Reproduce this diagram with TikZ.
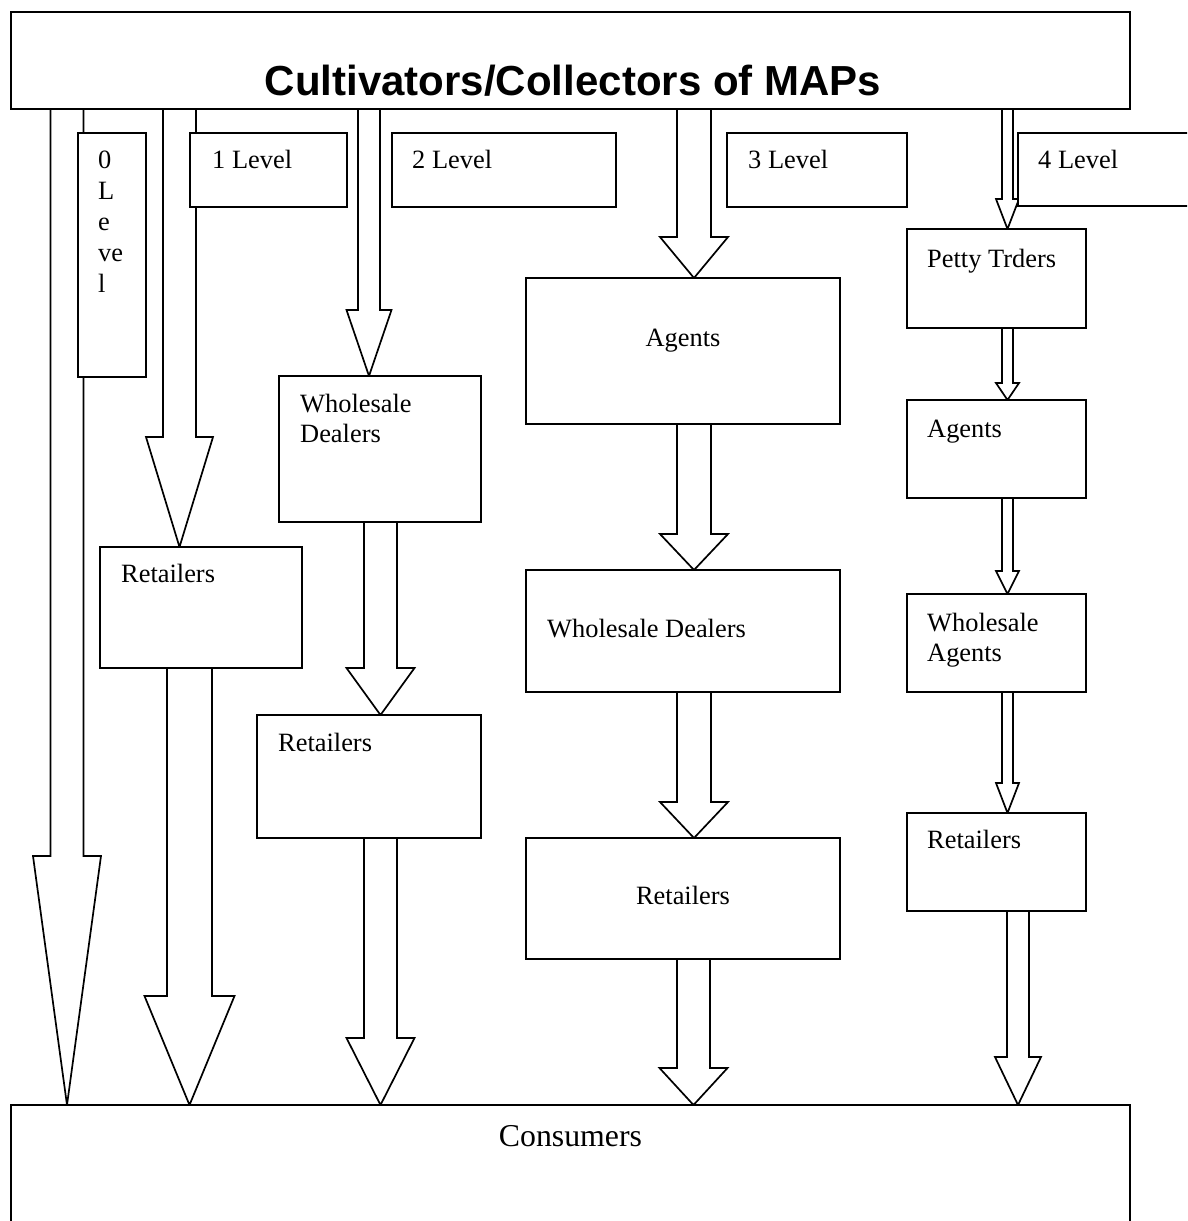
\documentclass[tikz,border=0pt]{standalone}
\usepackage{fontspec}
\setmainfont{Liberation Serif}
\newfontfamily\headfont{Liberation Sans}
\usetikzlibrary{positioning, calc, backgrounds}
\tikzset{
	box/.style={draw, fill=white, line width=1.7pt, inner sep=0pt, outer sep=0pt, anchor=north west},
	wh/.style 2 args={minimum width=#1pt, minimum height=#2pt},
	flow/.style={draw, fill=white, line width=1.7pt, line join=miter},
	lbl/.style={font=\fontsize{26.4}{30.5}\selectfont, inner sep=0pt, anchor=base west},
	lblc/.style={font=\fontsize{26.4}{30.5}\selectfont, inner sep=0pt, anchor=base},
	head/.style={font=\headfont\bfseries\fontsize{42}{48}\selectfont, inner sep=0pt, anchor=base}
}
% hollow block arrow: source, target, tip x, half shaft, half head, head length
\newcommand{\flowarrow}[6]{%
	\draw[flow] let \p1=(#1.south), \p2=(#2.north) in
		(#3-#4,\y1) -- (#3-#4,\y2+#6) -- (#3-#5,\y2+#6) -- (#3,\y2)
		-- (#3+#5,\y2+#6) -- (#3+#4,\y2+#6) -- (#3+#4,\y1);
}

\begin{document}
\begin{tikzpicture}[x=1pt, y=-1pt]
\clip (0,0) rectangle (1187,1221);

% source and sink
\node[box, wh={1119}{97}] (growers) at (11,12) {};
\node[box, wh={1119}{160}] (consumers) at (11,1105) {};
\node[head] (growerstxt) at ([shift={(2.5,83)}]growers.north) {Cultivators/Collectors of MAPs};
\node[lblc, font=\fontsize{31.8}{36}\selectfont] (consumerstxt) at ([shift={(0,41)}]consumers.north) {Consumers};

% level captions
\node[box, wh={68}{244}] (lvl0) at (78,133) {};
\node[box, wh={157}{74}] (lvl1) at (190,133) {};
\node[box, wh={224}{74}] (lvl2) at (392,133) {};
\node[box, wh={180}{74}] (lvl3) at (727,133) {};
\node[box, wh={200}{73}] (lvl4) at (1018,133) {};
\node[lbl, text width=40pt, font=\fontsize{26.4}{31}\selectfont] (lvl0txt) at ([shift={(20,35)}]lvl0.north west) {0\\L\\e\\ve\\l};
\node[lbl] (lvl1txt) at ([shift={(22,35)}]lvl1.north west) {1 Level};
\node[lbl] (lvl2txt) at ([shift={(20,35)}]lvl2.north west) {2 Level};
\node[lbl] (lvl3txt) at ([shift={(21,35)}]lvl3.north west) {3 Level};
\node[lbl] (lvl4txt) at ([shift={(20,35)}]lvl4.north west) {4 Level};

% 1 level
\node[box, wh={202}{121}] (ret1) at (100,547) {};
\node[lbl] (ret1txt) at ([shift={(21,35)}]ret1.north west) {Retailers};

% 2 level
\node[box, wh={202}{146}] (wd2) at (279,376) {};
\node[box, wh={224}{123}] (ret2) at (257,715) {};
\node[lbl, text width=170pt] (wd2txt) at ([shift={(21,36)}]wd2.north west) {Wholesale\\Dealers};
\node[lbl] (ret2txt) at ([shift={(21,36)}]ret2.north west) {Retailers};

% 3 level
\node[box, wh={314}{146}] (agents3) at (526,278) {};
\node[box, wh={314}{122}] (wd3) at (526,570) {};
\node[box, wh={314}{121}] (ret3) at (526,838) {};
\node[lblc] (agents3txt) at ([shift={(0,68)}]agents3.north) {Agents};
\node[lbl] (wd3txt) at ([shift={(21,67)}]wd3.north west) {Wholesale Dealers};
\node[lblc] (ret3txt) at ([shift={(0,66)}]ret3.north) {Retailers};

% 4 level
\node[box, wh={179}{99}] (petty) at (907,229) {};
\node[box, wh={179}{98}] (agents4) at (907,400) {};
\node[box, wh={179}{98}] (wa4) at (907,594) {};
\node[box, wh={179}{98}] (ret4) at (907,813) {};
\node[lbl] (pettytxt) at ([shift={(20,38)}]petty.north west) {Petty Trders};
\node[lbl] (agents4txt) at ([shift={(20,37)}]agents4.north west) {Agents};
\node[lbl, text width=150pt] (wa4txt) at ([shift={(20,37)}]wa4.north west) {Wholesale\\Agents};
\node[lbl] (ret4txt) at ([shift={(20,35)}]ret4.north west) {Retailers};

% channels, kept behind the boxes
\begin{pgfonlayer}{background}
\fill[white] (0,0) rectangle (1187,1221);
\flowarrow{growers}{consumers}{67}{16.5}{34}{249}
\flowarrow{growers}{ret1}{179.5}{16.5}{33.5}{110}
\flowarrow{ret1}{consumers}{189.5}{22.5}{45}{109}
\flowarrow{growers}{wd2}{369}{11}{22.5}{66}
\flowarrow{wd2}{ret2}{380.5}{16.5}{34}{47}
\flowarrow{ret2}{consumers}{380.5}{16.5}{34}{67}
\flowarrow{growers}{agents3}{694}{17}{34}{41}
\flowarrow{agents3}{wd3}{694}{17}{34}{36}
\flowarrow{wd3}{ret3}{694}{17}{34}{36}
\flowarrow{ret3}{consumers}{693.5}{16.5}{34}{37}
\flowarrow{growers}{petty}{1007.5}{5.5}{11.5}{30}
\flowarrow{petty}{agents4}{1007.5}{5.5}{11.5}{17}
\flowarrow{agents4}{wa4}{1007.5}{5.5}{11.5}{23}
\flowarrow{wa4}{ret4}{1007.5}{5.5}{11.5}{30}
\flowarrow{ret4}{consumers}{1018}{11}{23}{48}
\end{pgfonlayer}
\end{tikzpicture}
\end{document}
